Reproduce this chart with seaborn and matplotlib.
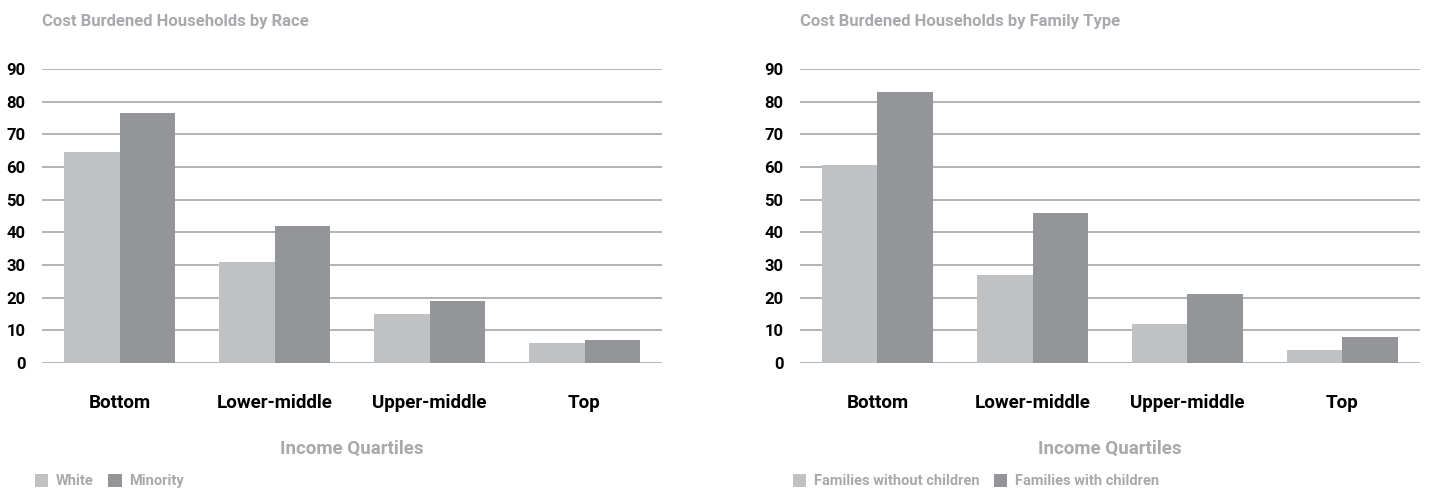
import matplotlib
matplotlib.use("Agg")
import matplotlib.pyplot as plt
import pandas as pd
import seaborn as sns

quartiles = ["Bottom", "Lower-middle", "Upper-middle", "Top"]

race_groups = ["White", "Minority"]
race_white = [64.5, 31, 15, 6]
race_minority = [76.5, 42, 19, 7]

family_groups = ["Families without children", "Families with children"]
family_without = [60.5, 27, 12, 4]
family_with = [83, 46, 21, 8]

LIGHT = "#c0c1c3"
DARK = "#939598"
GREY_TEXT = "#a7a9ac"
GRID = "#b3b3b3"


def long_frame(groups, first, second):
    rows = []
    for q, a, b in zip(quartiles, first, second):
        rows.append({"quartile": q, "group": groups[0], "value": a})
        rows.append({"quartile": q, "group": groups[1], "value": b})
    return pd.DataFrame(rows)


def draw_panel(fig, rect, title, groups, first, second, legend_x):
    ax = fig.add_axes(rect)
    df = long_frame(groups, first, second)
    sns.barplot(
        data=df, x="quartile", y="value", hue="group", hue_order=groups,
        order=quartiles, palette=[LIGHT, DARK], width=0.72, gap=0,
        saturation=1, linewidth=0, ax=ax, zorder=3,
    )
    ax.set_ylim(0, 90)
    ax.set_xlim(-0.5, 3.5)
    ax.set_yticks(range(0, 91, 10))
    ax.grid(axis="y", color=GRID, linewidth=1.4, zorder=0)
    ax.grid(axis="x", visible=False)
    ax.set_axisbelow(True)
    for side in ["top", "right", "left", "bottom"]:
        ax.spines[side].set_visible(False)
    ax.tick_params(axis="both", length=0)
    ax.tick_params(axis="y", pad=12, labelsize=12)
    ax.tick_params(axis="x", pad=22, labelsize=13.5)
    for lab in ax.get_yticklabels() + ax.get_xticklabels():
        lab.set_fontweight("bold")
        lab.set_color("black")
    ax.set_ylabel("")
    ax.set_xlabel("Income Quartiles", fontsize=13.5, fontweight="bold",
                  color=GREY_TEXT, labelpad=20)
    ax.set_title(title, loc="left", fontsize=12, fontweight="bold",
                 color=GREY_TEXT, x=0.0, y=1.0, pad=31)
    handles, labels = ax.get_legend_handles_labels()
    ax.get_legend().remove()
    leg = fig.legend(
        handles, labels, loc="center left",
        bbox_to_anchor=(legend_x, 1 - 481 / 494), ncol=2, frameon=False,
        fontsize=10.5, handlelength=0.9, handleheight=1.0,
        handletextpad=0.55, columnspacing=1.0, borderaxespad=0,
        borderpad=0,
    )
    for t in leg.get_texts():
        t.set_color(GREY_TEXT)
        t.set_fontweight("bold")
    return ax


sns.set_theme(style="white")
plt.rcParams["font.family"] = ["Roboto", "DejaVu Sans"]

fig = plt.figure(figsize=(14.29, 4.94), dpi=100)
bottom = 1 - 363 / 494
height = (363 - 69) / 494
draw_panel(fig, [42 / 1429, bottom, 620 / 1429, height],
           "Cost Burdened Households by Race",
           race_groups, race_white, race_minority, 35 / 1429)
draw_panel(fig, [800 / 1429, bottom, 620 / 1429, height],
           "Cost Burdened Households by Family Type",
           family_groups, family_without, family_with, 793 / 1429)

fig.savefig("out.png", dpi=100)
